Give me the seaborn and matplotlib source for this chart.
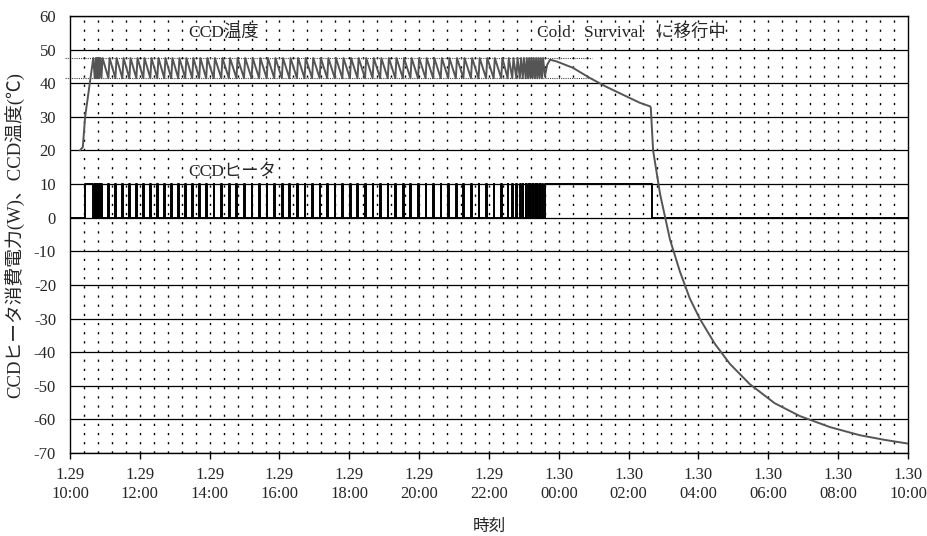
import numpy as np
import pandas as pd
import matplotlib
matplotlib.use("Agg")
import matplotlib.pyplot as plt
import seaborn as sns

# ---------------- data (minutes since 1.29 10:00) ----------------
x_tick_min = [0, 120, 240, 360, 480, 600, 720, 840, 960, 1080, 1200, 1320, 1440]
x_tick_labels = ["1.29\n10:00", "1.29\n12:00", "1.29\n14:00", "1.29\n16:00",
                 "1.29\n18:00", "1.29\n20:00", "1.29\n22:00", "1.30\n00:00",
                 "1.30\n02:00", "1.30\n04:00", "1.30\n06:00", "1.30\n08:00",
                 "1.30\n10:00"]
y_ticks = [60, 50, 40, 30, 20, 10, 0, -10, -20, -30, -40, -50, -60, -70]

# heater pulse start times (thermostat cycling), minutes
pulse_starts = [40, 42.5, 45, 47.5, 50,
                54, 66, 78, 90, 102, 114, 126, 138, 150, 162, 174, 186, 198,
                210, 222, 234, 247, 260, 273, 286, 299, 312, 325, 338, 351,
                364, 377, 390, 403, 416, 429, 442, 455, 468, 481, 494, 507,
                520, 533, 546, 559, 572, 585, 598, 611, 624, 637, 650, 663,
                676, 689, 702, 715, 728, 741, 752,
                760, 767, 773, 778, 783, 787, 791, 795, 799, 803, 807, 811]
pulse_on_min = 1.2
heater_power = 10
heater_first_on = [26, 40]
heater_survival_on = [816, 1000]
t_end = 1440

# thermostat band (degC)
temp_high = 47.5
temp_low = 41.5

# warm-up before cycling
temp_start_t = [17, 22, 26, 40]
temp_start_v = [20, 21, 30, 47.5]
# after transition to Cold Survival
temp_after_t = [816, 820, 825, 836, 864, 893, 922, 950, 979, 997, 998,
                1002, 1014, 1031, 1048, 1065, 1082, 1108, 1134, 1168,
                1211, 1254, 1306, 1357, 1400, 1440]
temp_after_v = [42, 45.5, 47, 46.5, 44.6, 41.6, 38.9, 36.6, 34.2, 33.1, 32.8,
                20, 7, -6.5, -16, -24, -30, -37.5, -43.5, -49.5,
                -55.2, -59.0, -62.3, -64.7, -66.1, -67.2]

# ---------------- build series ----------------
ht, hv = [0, heater_first_on[0], heater_first_on[0]], [0, 0, heater_power]
ht += [heater_first_on[1], heater_first_on[1]]
hv += [heater_power, 0]
for s in pulse_starts[1:]:
    ht += [s, s, s + pulse_on_min, s + pulse_on_min]
    hv += [0, heater_power, heater_power, 0]
ht += [heater_survival_on[0], heater_survival_on[0], heater_survival_on[1],
       heater_survival_on[1], t_end]
hv += [0, heater_power, heater_power, 0, 0]
heater = pd.DataFrame({"t": ht, "v": hv})

tt, tv = list(temp_start_t), list(temp_start_v)
for s in pulse_starts[1:]:
    tt += [s, s + 2]
    tv += [temp_low, temp_high]
tt += temp_after_t
tv += temp_after_v
temp = pd.DataFrame({"t": tt, "v": tv})

# ---------------- plot ----------------
sns.set_theme(style="white")
serif_jp = ["Liberation Serif", "Noto Sans CJK JP"]
plt.rcParams["font.family"] = serif_jp

fig = plt.figure(figsize=(9.28, 5.36), dpi=100)
ax = fig.add_axes([70 / 928, 83 / 536, 838 / 928, 437 / 536])

# grid
for y in y_ticks:
    ax.axhline(y, color="black", lw=0.9, zorder=1)
for xm in range(24, 1440, 24):
    ax.axvline(xm, color="black", lw=1.0, ls=(0, (1.6, 5.0)), zorder=1)

# band lines
ax.plot([-9, 897], [temp_high, temp_high], color="#444444", lw=0.8,
        ls=(0, (1, 1)), clip_on=False, zorder=2)
ax.plot([-9, 897], [temp_low, temp_low], color="#444444", lw=0.8,
        ls=(0, (1, 1)), clip_on=False, zorder=2)

sns.lineplot(data=heater, x="t", y="v", sort=False, estimator=None,
             color="black", lw=1.4, ax=ax, zorder=3)
sns.lineplot(data=temp, x="t", y="v", sort=False, estimator=None,
             color="#555555", lw=1.4, ax=ax, zorder=4)

ax.set_xlim(0, 1440)
ax.set_ylim(-70, 60)
ax.set_xticks(x_tick_min)
ax.set_xticklabels(x_tick_labels, fontsize=12, linespacing=1.3)
ax.set_yticks(y_ticks)
ax.set_yticklabels([str(v) for v in y_ticks], fontsize=12)
ax.tick_params(axis="x", direction="out", length=4, width=1, color="black",
               pad=6, bottom=True)
ax.tick_params(axis="y", length=0, pad=10, left=True)
for sp in ax.spines.values():
    sp.set_color("black")
    sp.set_linewidth(1.0)
    sp.set_visible(True)

ax.set_xlabel("時刻", fontsize=12, labelpad=12)
ax.set_ylabel("CCDヒータ消費電力(W)、CCD温度(℃)", fontsize=13.5, labelpad=6)

ax.text(203, 55, "CCD温度", fontsize=12.5, va="center", ha="left", zorder=5)
ax.text(203, 13.8, "CCDヒータ", fontsize=12.5, va="center", ha="left", zorder=5)
ax.text(802, 55, "Cold   Survival   に移行中", fontsize=12.5, va="center",
        ha="left", zorder=5)

fig.savefig("out.png", dpi=100, facecolor="white")
